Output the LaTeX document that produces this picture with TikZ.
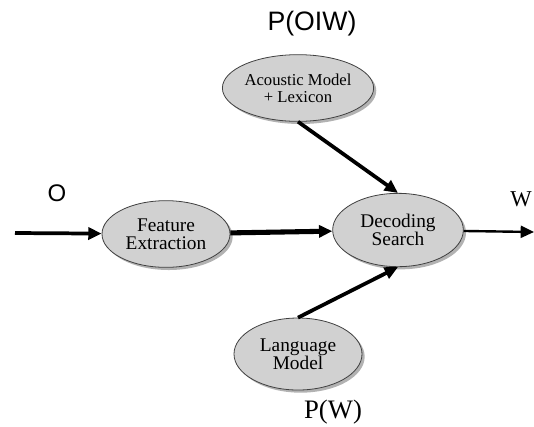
\documentclass[tikz,border=0pt]{standalone}
\usepackage{fontspec}
\setmainfont{Liberation Serif}
\newfontfamily\helv{Liberation Sans}
\usetikzlibrary{shapes.geometric,shadows,arrows.meta}

\begin{document}
\begin{tikzpicture}[x=0.75pt,y=-0.75pt,
  blob/.style={draw=black!75, line width=0.6pt, ellipse, fill=black!18, inner sep=0pt,
    minimum width=96pt, minimum height=50pt, align=center, font=\fontsize{14.5}{13.5}\selectfont,
    drop shadow={shadow xshift=2pt, shadow yshift=-2pt, fill=black!60}},
  link/.style={line width=2.8pt, -{Triangle[length=10pt,width=9pt]}}]
\useasboundingbox (0,0) rectangle (534,426);
\node[blob, font=\fontsize{12.5}{12.5}\selectfont] (AM) at (298,88) {Acoustic Model\\+ Lexicon};
\node[blob] (FE) at (166,234) {Feature\\Extraction};
\node[blob, minimum width=98pt, minimum height=55pt] (DS) at (398,230) {Decoding\\Search};
\node[blob, minimum height=54pt] (LM) at (298,354) {Language\\Model};
\node (POW) at (312,24) {\helv\fontsize{20}{20}\selectfont P(OIW)};
\node (O) at (57,193) {\helv\fontsize{18}{18}\selectfont O};
\node (W) at (521,199) {\fontsize{17}{17}\selectfont W};
\node (PW) at (333,412) {\fontsize{20}{20}\selectfont P(W)};
\coordinate (IN) at (15,233);
\coordinate (OUT) at (534,232);
\draw[link] (IN) -- (FE);
\draw[link, line width=3.8pt] (FE) -- (DS);
\draw[link] (AM.south) -- (DS.north);
\draw[link] (LM.north) -- (DS.south);
\draw[link, line width=1.8pt] (DS) -- (OUT);
\end{tikzpicture}
\end{document}
